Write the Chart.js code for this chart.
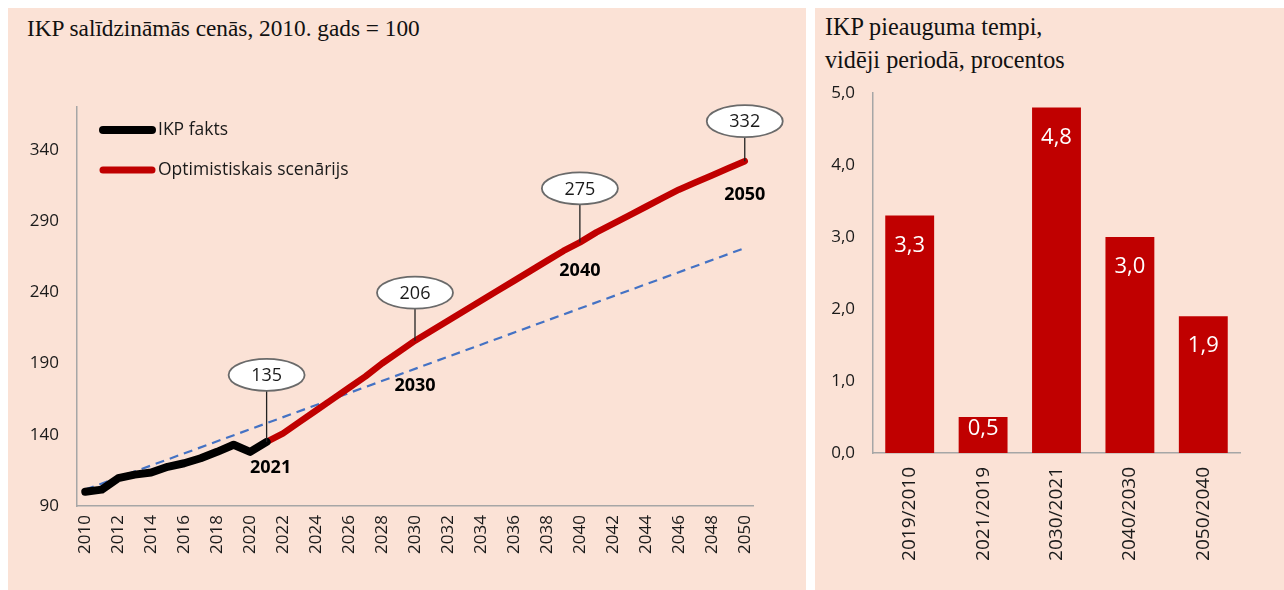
<!DOCTYPE html>
<html>
<head>
<meta charset="utf-8">
<script src="https://cdn.jsdelivr.net/npm/chart.js@4/dist/chart.umd.min.js"></script>
<style>
  html, body { margin: 0; padding: 0; background: #ffffff; width: 1284px; height: 590px; overflow: hidden; }
  .panel { position: absolute; background: #FBE2D6; }
  #leftPanel { left: 8px; top: 8px; width: 798px; height: 582px; }
  #rightPanel { left: 815px; top: 8px; width: 469px; height: 582px; }
  .title { position: absolute; font-family: "Liberation Serif", serif; color: #111; white-space: nowrap; }
  #leftTitle { left: 19px; top: 5px; font-size: 23.3px; line-height: 30px; }
  #rightTitle { left: 10px; top: 2px; font-size: 24.2px; line-height: 33px; }
  canvas { position: absolute; left: 0; top: 0; }
</style>
</head>
<body>
<div class="panel" id="leftPanel">
  <div class="title" id="leftTitle">IKP salīdzināmās cenās, 2010. gads = 100</div>
  <canvas id="leftChart" width="798" height="582"></canvas>
</div>
<div class="panel" id="rightPanel">
  <div class="title" id="rightTitle">IKP pieauguma tempi,<br>vidēji periodā, procentos</div>
  <canvas id="rightChart" width="469" height="582"></canvas>
</div>
<script>
// ---------- DATA ----------
const years = [2010,2011,2012,2013,2014,2015,2016,2017,2018,2019,2020,
               2021,2022,2023,2024,2025,2026,2027,2028,2029,2030,
               2031,2032,2033,2034,2035,2036,2037,2038,2039,2040,
               2041,2042,2043,2044,2045,2046,2047,2048,2049,2050];
// IKP fakts 2010-2021
const factValues = [100,101.5,109.5,112,113.5,117.5,120,123.5,128,133,128,135];
// Optimistiskais scenārijs 2021-2050
const scenarioValues = [135,141,149,157,165,173,181,190,198,206,
                        213,220,227,234,241,248,255,262,269,275,
                        282,288,294,300,306,312,317,322,327,332];
// Trend line end points (2010, 2050)
const trendEnds = [101.5, 271];
// Callout years on the scenario line
const calloutYears = [2021, 2030, 2040, 2050];
const legendLabels = ["IKP fakts", "Optimistiskais scenārijs"];
const leftYTicks = [90, 140, 190, 240, 290, 340];

// Right chart
const periods = ["2019/2010","2021/2019","2030/2021","2040/2030","2050/2040"];
const growthRates = [3.3, 0.5, 4.8, 3.0, 1.9];

// ---------- BUILD SERIES ----------
const firstScenarioYear = 2021;
const factSeries = years.map((y, i) => i < factValues.length ? factValues[i] : null);
const scenarioSeries = years.map(y => y >= firstScenarioYear ? scenarioValues[y - firstScenarioYear] : null);
const trendSeries = years.map((y, i) => i === 0 ? trendEnds[0] : (i === years.length - 1 ? trendEnds[1] : null));

const FONT = "Open Sans";
const TXT = "#1a1a1a";
const AXIS = "#a6a6a6";
const RED = "#C00000";

// ---------- LEFT CHART ----------
const calloutStyle = {
  2021: { up: 67, down: 26, dx: 4 },
  2030: { up: 48, down: 45, dx: 0 },
  2040: { up: 54, down: 28, dx: 0 },
  2050: { up: 40, down: 34, dx: 0 }
};

const leftDecor = {
  id: 'leftDecor',
  afterDatasetsDraw(chart) {
    const ctx = chart.ctx;
    const xs = chart.scales.x, ys = chart.scales.y;
    ctx.save();
    calloutYears.forEach(yr => {
      const idx = years.indexOf(yr);
      const v = scenarioSeries[idx];
      const px = xs.getPixelForValue(idx);
      const py = ys.getPixelForValue(v);
      const st = calloutStyle[yr];
      const cy = py - st.up;
      const rx = 38, ry = 16;
      ctx.strokeStyle = "#222";
      ctx.lineWidth = 1.3;
      ctx.beginPath();
      ctx.moveTo(px, cy + ry);
      ctx.lineTo(px, py);
      ctx.stroke();
      ctx.beginPath();
      ctx.ellipse(px, cy, rx, ry, 0, 0, Math.PI * 2);
      ctx.fillStyle = "#ffffff";
      ctx.fill();
      ctx.strokeStyle = "#6a6a6a";
      ctx.lineWidth = 1.8;
      ctx.stroke();
      ctx.fillStyle = TXT;
      ctx.font = "18px '" + FONT + "'";
      ctx.textAlign = "center";
      ctx.textBaseline = "middle";
      ctx.fillText(String(Math.round(v)), px, cy + 1);
      ctx.font = "bold 18px '" + FONT + "'";
      ctx.fillStyle = "#000";
      ctx.fillText(String(yr), px + st.dx, py + st.down);
    });
    // legend
    const lx = chart.chartArea.left + 23;
    const ly0 = chart.chartArea.top + 23;
    const colors = ["#000000", RED];
    const widths = [8, 7];
    legendLabels.forEach((lab, i) => {
      const ly = ly0 + i * 40;
      ctx.strokeStyle = colors[i];
      ctx.lineWidth = widths[i];
      ctx.lineCap = "round";
      ctx.beginPath();
      ctx.moveTo(lx + 3, ly);
      ctx.lineTo(lx + 52, ly);
      ctx.stroke();
      ctx.fillStyle = TXT;
      ctx.font = "17.5px '" + FONT + "'";
      ctx.textAlign = "left";
      ctx.textBaseline = "middle";
      ctx.fillText(lab, lx + 58, ly);
    });
    ctx.restore();
  }
};

new Chart(document.getElementById('leftChart'), {
  type: 'line',
  data: {
    labels: years.map(String),
    datasets: [
      { label: 'trend', data: trendSeries, spanGaps: true, borderColor: '#4472C4', borderWidth: 2.2,
        borderDash: [9, 6], pointRadius: 0, order: 3 },
      { label: legendLabels[1], data: scenarioSeries, borderColor: RED, borderWidth: 6.5,
        borderCapStyle: 'round', borderJoinStyle: 'round', pointRadius: 0, order: 2 },
      { label: legendLabels[0], data: factSeries, borderColor: '#000000', borderWidth: 8,
        borderCapStyle: 'round', borderJoinStyle: 'round', pointRadius: 0, order: 1 }
    ]
  },
  options: {
    responsive: false,
    animation: false,
    devicePixelRatio: 1,
    layout: { padding: { left: 0, top: 99, right: 53, bottom: 0 } },
    plugins: { legend: { display: false }, tooltip: { enabled: false } },
    scales: {
      x: {
        type: 'category',
        offset: true,
        grid: { display: false, drawTicks: false },
        border: { color: AXIS, width: 1.5 },
        ticks: {
          autoSkip: false, maxRotation: 90, minRotation: 90, padding: 9,
          color: TXT, font: { family: FONT, size: 17 },
          callback: (v, i) => (years[i] % 2 === 0 ? String(years[i]) : '')
        },
        afterFit: s => { s.height = 84; }
      },
      y: {
        min: 90, max: 370,
        grid: { display: false, drawTicks: false },
        border: { color: AXIS, width: 1.5 },
        ticks: { padding: 18, color: TXT, font: { family: FONT, size: 17 } },
        afterBuildTicks: s => { s.ticks = leftYTicks.map(v => ({ value: v })); },
        afterFit: s => { s.width = 69; }
      }
    }
  },
  plugins: [leftDecor]
});

// ---------- RIGHT CHART ----------
const fmt = v => v.toFixed(1).replace('.', ',');
const barLabels = {
  id: 'barLabels',
  afterDatasetsDraw(chart) {
    const ctx = chart.ctx;
    const meta = chart.getDatasetMeta(0);
    ctx.save();
    ctx.fillStyle = "#ffffff";
    ctx.font = "22px '" + FONT + "'";
    ctx.textAlign = "center";
    ctx.textBaseline = "middle";
    meta.data.forEach((bar, i) => {
      const h = bar.base - bar.y;
      const cy = bar.y + Math.min(30, h / 2 - 6);
      ctx.fillText(fmt(growthRates[i]), bar.x, cy);
    });
    ctx.restore();
  }
};

new Chart(document.getElementById('rightChart'), {
  type: 'bar',
  data: {
    labels: periods,
    datasets: [{ data: growthRates, backgroundColor: RED, categoryPercentage: 1, barPercentage: 0.666 }]
  },
  options: {
    responsive: false,
    animation: false,
    devicePixelRatio: 1,
    layout: { padding: { left: 0, top: 85, right: 44, bottom: 0 } },
    plugins: { legend: { display: false }, tooltip: { enabled: false } },
    scales: {
      x: {
        grid: { display: false, drawTicks: false },
        border: { color: AXIS, width: 1.5 },
        ticks: { autoSkip: false, maxRotation: 90, minRotation: 90, padding: 14,
                 color: TXT, font: { family: FONT, size: 19 } },
        afterFit: s => { s.height = 137; }
      },
      y: {
        min: 0, max: 5,
        grid: { display: false, drawTicks: false },
        border: { color: AXIS, width: 1.5 },
        ticks: { stepSize: 1, padding: 18, color: TXT, font: { family: FONT, size: 17 },
                 callback: v => fmt(v) },
        afterFit: s => { s.width = 58; }
      }
    }
  },
  plugins: [barLabels]
});
</script>
</body>
</html>
